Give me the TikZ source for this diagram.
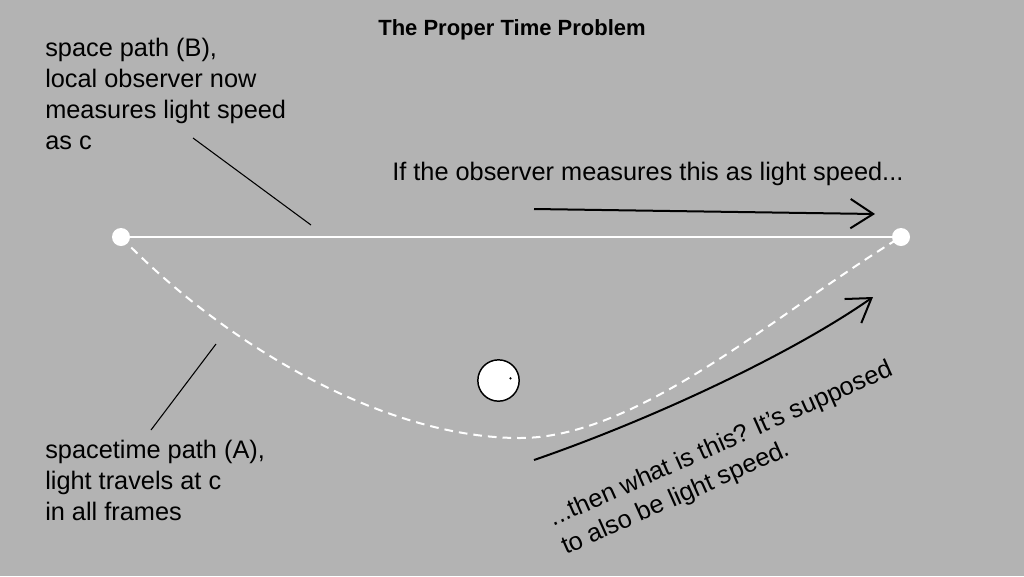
\documentclass[tikz,border=0pt]{standalone}
\usepackage{fontspec}
\setmainfont{Liberation Sans}
\usetikzlibrary{arrows.meta}
\definecolor{bg}{HTML}{B3B3B3}
\begin{document}
\begin{tikzpicture}[x=0.75pt,y=-0.75pt,
  lbl/.style={inner sep=0pt,align=left,font=\fontsize{19}{23.25}\selectfont,text=black},
  ttl/.style={inner sep=0pt,font=\fontsize{16.5}{20}\selectfont\bfseries,text=black},
  enddot/.style={circle,fill=white,inner sep=0pt,minimum size=13.5pt},
  pointer/.style={draw=black,line width=0.8pt},
  bigarrow/.style={draw=black,line width=1.5pt,-{Straight Barb[length=17pt,width=22pt,line width=1.5pt]}},
  spacepath/.style={draw=white,line width=2.2pt},
  stpath/.style={draw=white,line width=1.5pt,dash pattern=on 6.5pt off 4.5pt}]
\fill[bg] (0,0) rectangle (1024,576);
\useasboundingbox (0,0) rectangle (1024,576);

\node[ttl,anchor=base] (title) at (512,35) {The Proper Time Problem};

% anchor base west = baseline of the last line
\node[lbl,anchor=base west] (btext) at (45,149) {space path (B),\\local observer now\\measures light speed\\as c};
\node[lbl,anchor=base west] (atext) at (45,520) {spacetime path (A),\\light travels at c\\in all frames};
\node[lbl,anchor=base west] (qtext) at (392,180) {If the observer measures this as light speed...};
\node[lbl,anchor=base west,rotate=24] (rtext) at (566,555) {...then what is this?\ It’s supposed\\to also be light speed.};

\node[enddot] (L) at (121,237) {};
\node[enddot] (R) at (901,237) {};

\draw[spacepath] (L) -- (R);
\coordinate (M) at (520,438);
\draw[stpath] (L.center) .. controls (220,340) and (380,438) .. (M)
   .. controls (640,438) and (780,310) .. (R.center);

\node[circle,draw=black,fill=white,line width=1.1pt,minimum size=31pt,inner sep=0pt] (obs) at (498.5,380.5) {};
\fill[black] (510.5,378.3) circle (0.9pt);

\coordinate (b1) at (193,138);
\coordinate (b2) at (311,225);
\coordinate (a1) at (151,430);
\coordinate (a2) at (216,344);
\draw[pointer] (b1) -- (b2);
\draw[pointer] (a1) -- (a2);

\coordinate (s1) at (534,209);
\coordinate (s2) at (875,214);
\draw[bigarrow] (s1) -- (s2);
\coordinate (c1) at (534,460);
\coordinate (c2) at (873,297);
\draw[bigarrow] (c1) .. controls (650,420) and (790,355) .. (c2);
\end{tikzpicture}
\end{document}
